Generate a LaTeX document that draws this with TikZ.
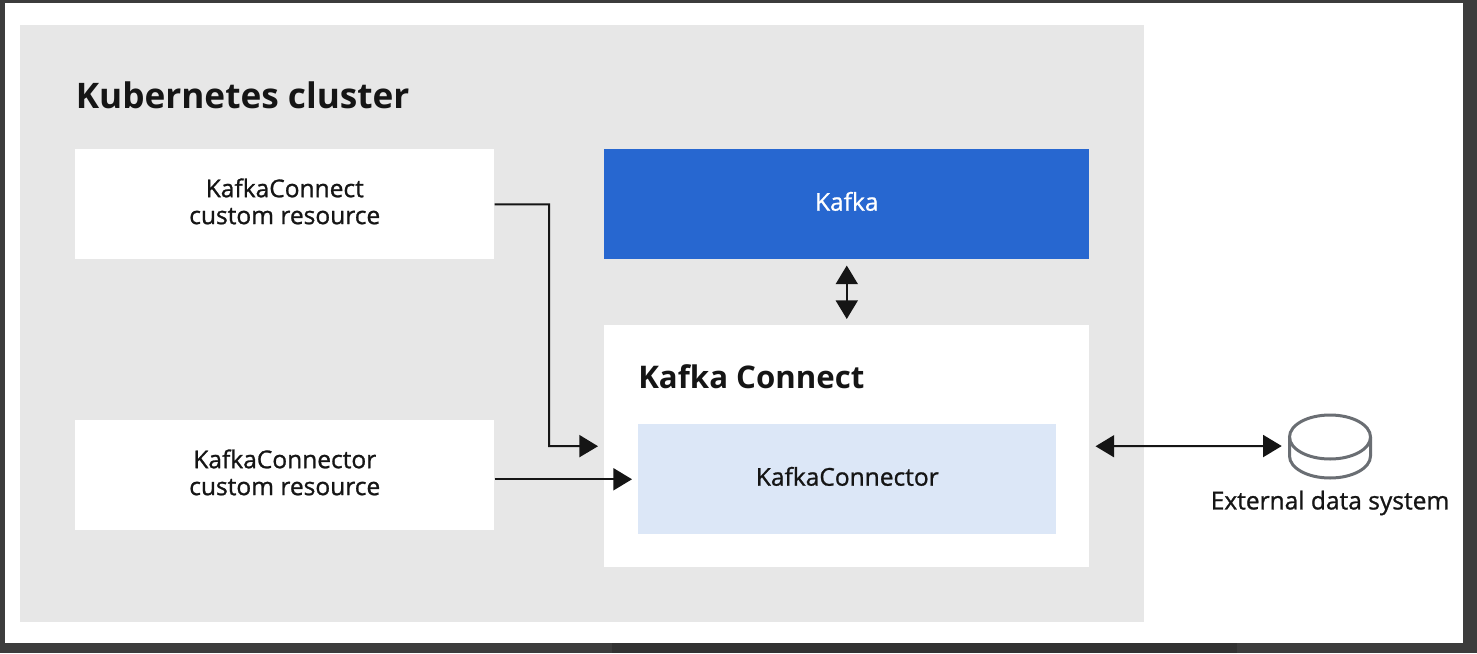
\documentclass[tikz,border=0pt]{standalone}
\usepackage{fontspec}
\setmainfont{Open Sans}
\newfontfamily\boxfont{Open Sans}[FakeBold=1]
\usepackage{xcolor}
\usetikzlibrary{positioning,arrows.meta}
\definecolor{framedark}{RGB}{60,60,60}
\definecolor{stripdark}{RGB}{50,50,50}
\definecolor{clustergrey}{RGB}{231,231,231}
\definecolor{kafkablue}{RGB}{39,103,208}
\definecolor{connectorblue}{RGB}{220,231,247}
\definecolor{inkblack}{RGB}{21,21,21}
\definecolor{diskgrey}{RGB}{106,110,115}
\tikzset{
  box/.style={anchor=north west, inner sep=0pt, align=center, text=inkblack, text depth=4.5pt, font=\boxfont\fontsize{18.4}{20.2}\selectfont},
  heading/.style={anchor=west, inner sep=0pt, text=inkblack, font=\fontsize{26.4}{30}\selectfont\bfseries},
  arr/.style={-{Triangle[length=14pt,width=16.5pt]}, line width=1.5pt, draw=inkblack},
  biarr/.style={{Triangle[length=14pt,width=16.5pt]}-{Triangle[length=14pt,width=16.5pt]}, line width=1.5pt, draw=inkblack},
  diskline/.style={draw=diskgrey, line width=2.25pt},
}
\begin{document}
\begin{tikzpicture}[x=0.75pt, y=-0.75pt]
    \useasboundingbox (0,0) rectangle (1477,653);
    \fill[framedark] (0,0) rectangle (1477,653);
    \fill[stripdark] (612,643) rectangle (1237,653);
    \fill[white] (5,3) rectangle (1463,643);
    \node[box, fill=clustergrey, minimum width=843pt, minimum height=447.75pt] (cluster) at (20,25) {};
    \node[heading] (clustertitle) at (75.5,95) {Kubernetes cluster};
    \node[box, fill=white, minimum width=314.25pt, minimum height=82.5pt] (kcres) at (75,149) {KafkaConnect\\custom resource};
    \node[box, fill=white, minimum width=314.25pt, minimum height=82.5pt] (kcnres) at (75,420) {KafkaConnector\\custom resource};
    \node[box, fill=kafkablue, text=white, minimum width=363.75pt, minimum height=82.5pt] (kafka) at (604,149) {Kafka};
    \node[box, fill=white, minimum width=363.75pt, minimum height=181.5pt] (connect) at (604,325) {};
    \node[heading, font=\fontsize{23.4}{28}\selectfont\bfseries] (connecttitle) at (638,377) {Kafka Connect};
    \node[box, fill=connectorblue, minimum width=313.5pt, minimum height=82.5pt] (connector) at (638,424) {KafkaConnector};
    \node[minimum width=62pt, minimum height=48pt, inner sep=0pt] (disk) at (1330,446) {};
    \draw[diskline] (1330,437) ellipse [x radius=40.5, y radius=22];
    \draw[diskline] (1289.5,437) -- (1289.5,456) arc [start angle=180, end angle=0, x radius=40.5, y radius=22] -- (1370.5,437);
    \node[inner sep=0pt, text=inkblack, font=\boxfont\fontsize{18.4}{20.2}\selectfont] (disklabel) at (1330,503) {External data system};
    \coordinate (bend) at (549,446);
    \draw[arr, shorten >=4.5pt] (kcres.east) -| (bend) -- (connect.west);
    \draw[arr, shorten >=4.5pt] (kcnres.east |- connector.west) -- (connector.west);
    \draw[biarr, shorten <=4.5pt, shorten >=4.5pt] (kafka.south) -- (connect.north);
    \draw[biarr, shorten <=4.5pt, shorten >=5pt] (connect.east) -- (disk.west);
  \end{tikzpicture}
\end{document}
